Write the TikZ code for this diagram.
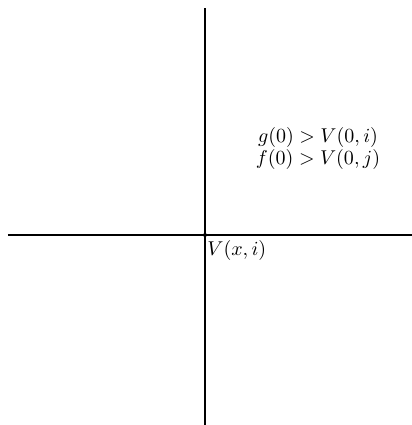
\documentclass[tikz,border=0pt]{standalone}
\begin{document}
\begin{tikzpicture}[x=0.5pt,y=-0.5pt,
  axis/.style={line width=0.7pt,black},
  lbl/.style={inner sep=0pt,font=\normalsize}]
\useasboundingbox (0,0) rectangle (412,425);
\coordinate (top) at (205,8);
\coordinate (bot) at (205,425);
\coordinate (lft) at (8,235);
\coordinate (rgt) at (412,235);
\coordinate (o) at (205,235);
\draw[axis] (top) -- (bot);
\draw[axis] (lft) -- (rgt);
\fill (o) circle (1pt);
\node[lbl,anchor=north west] (v) at (207,240) {$V(x,i)$};
\node[lbl,align=center] (t) at (318,148) {$g(0)>V(0,i)$\\[-1pt]$f(0)>V(0,j)$};
\end{tikzpicture}
\end{document}
